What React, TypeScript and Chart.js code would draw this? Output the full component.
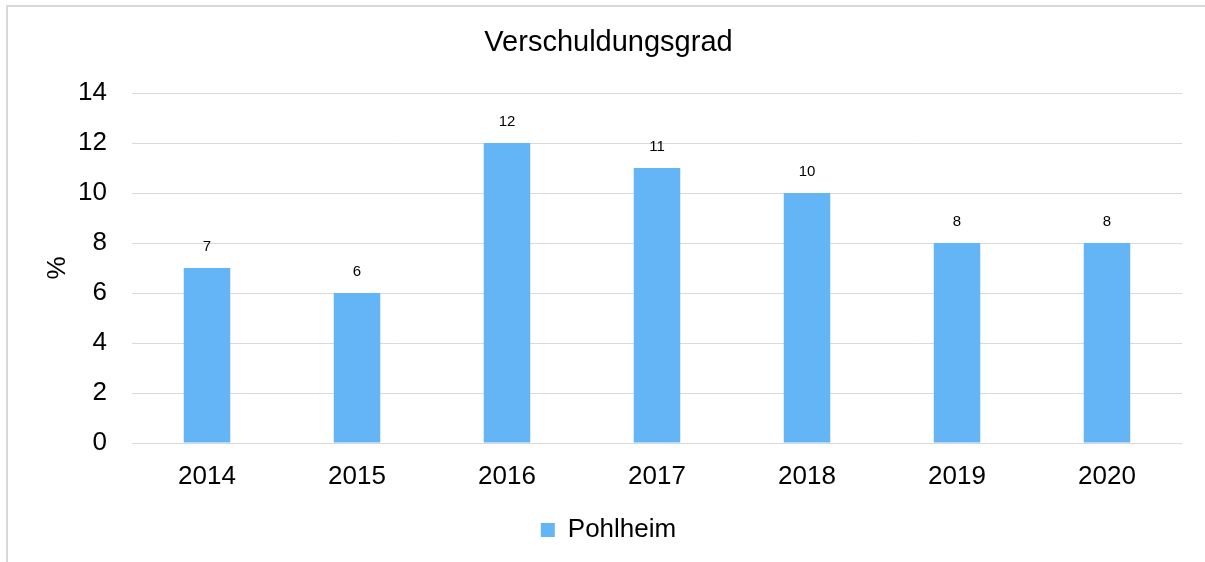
import React, { useEffect, useRef } from "react";
import { Chart, registerables } from "chart.js";

Chart.register(...registerables);

const categories = ["2014", "2015", "2016", "2017", "2018", "2019", "2020"];
const values = [7, 6, 12, 11, 10, 8, 8];
const seriesName = "Pohlheim";
const chartTitle = "Verschuldungsgrad";
const yAxisTitle = "%";
const yMin = 0;
const yMax = 14;
const yStep = 2;

const FONT = "'Liberation Sans', Arial, sans-serif";
const TEXT = "#000000";
const GRID = "#d9d9d9";
const BAR = "#64b5f6";

const dataLabels = {
  id: "dataLabels",
  afterDatasetsDraw(chart: any) {
    const ctx = chart.ctx;
    const meta = chart.getDatasetMeta(0);
    ctx.save();
    ctx.font = `15px ${FONT}`;
    ctx.fillStyle = TEXT;
    ctx.textAlign = "center";
    ctx.textBaseline = "middle";
    meta.data.forEach((el: any, i: number) => {
      const v = chart.data.datasets[0].data[i];
      ctx.fillText(String(v), el.x, el.y - 21);
    });
    ctx.restore();
  },
};

export default function App() {
  const ref = useRef<HTMLCanvasElement>(null);
  useEffect(() => {
    const chart = new Chart(ref.current as HTMLCanvasElement, {
      type: "bar",
      data: {
        labels: categories,
        datasets: [
          {
            label: seriesName,
            data: values,
            backgroundColor: BAR,
            borderWidth: 0,
            categoryPercentage: 1,
            barPercentage: 0.31,
          },
        ],
      },
      options: {
        responsive: false,
        animation: false,
        layout: { padding: { left: 12, right: 0, top: 0, bottom: 9 } },
        plugins: {
          title: {
            display: true,
            text: chartTitle,
            color: TEXT,
            font: { family: FONT, size: 29, weight: "normal" },
            padding: { top: 25.6, bottom: 32.6 },
          },
          legend: {
            position: "bottom",
            labels: {
              color: TEXT,
              font: { family: FONT, size: 26 },
              boxWidth: 14,
              boxHeight: 14,
              padding: 10,
            },
          },
          tooltip: { enabled: false },
        },
        scales: {
          x: {
            grid: { display: false },
            border: { display: false },
            ticks: {
              color: TEXT,
              font: { family: FONT, size: 26 },
              padding: 10,
              maxRotation: 0,
            },
            afterFit(s: any) {
              s.height = 64;
            },
          },
          y: {
            min: yMin,
            max: yMax,
            ticks: {
              stepSize: yStep,
              color: TEXT,
              font: { family: FONT, size: 26 },
              padding: 25,
            },
            grid: { color: GRID, drawTicks: false, lineWidth: 1 },
            border: { display: false },
            title: {
              display: true,
              text: yAxisTitle,
              color: TEXT,
              font: { family: FONT, size: 26 },
              padding: { top: 30, bottom: 0 },
            },
            afterFit(s: any) {
              s.width = 120;
            },
          },
          y2: {
            position: "right",
            display: true,
            grid: { display: false },
            ticks: { display: false },
            border: { display: false },
            afterFit(s: any) {
              s.width = 23;
            },
          },
        },
      } as any,
      plugins: [dataLabels],
    });
    return () => chart.destroy();
  }, []);

  return (
    <div>
      <div
        style={{
          position: "absolute",
          left: 6,
          top: 5,
          width: 1199,
          height: 557,
          boxSizing: "border-box",
          borderLeft: `2px solid ${GRID}`,
          borderTop: `2px solid ${GRID}`,
        }}
      />
      <canvas
        ref={ref}
        width={1205}
        height={562}
        style={{ position: "absolute", left: 0, top: 0, display: "block" }}
      />
    </div>
  );
}
